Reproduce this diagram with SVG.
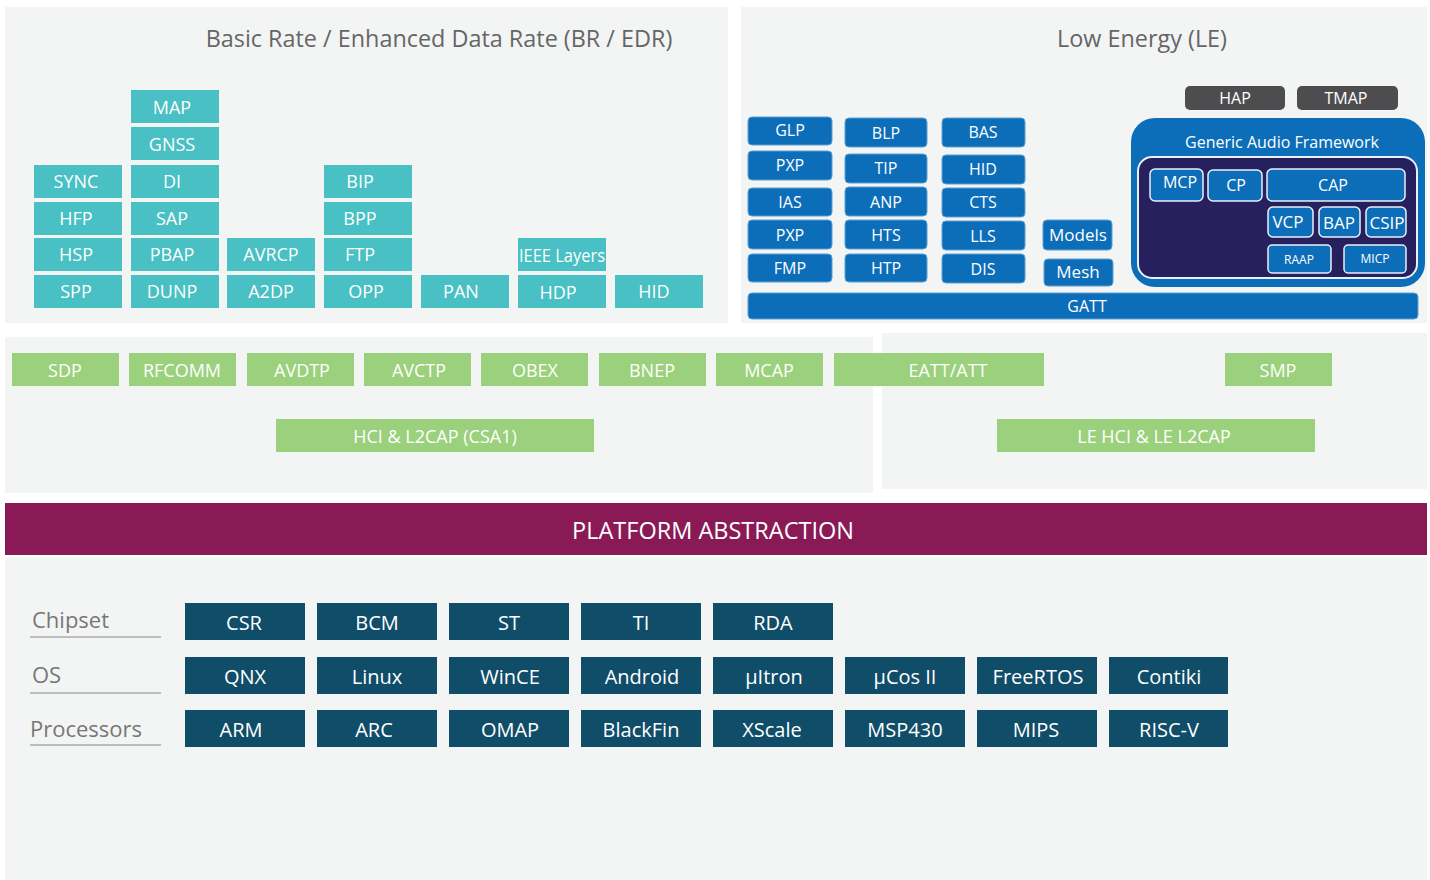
<svg xmlns="http://www.w3.org/2000/svg" width="1430" height="880" viewBox="0 0 1430 880">
<style>
text{font-family:"Open Sans","Noto Sans","Liberation Sans",sans-serif;text-anchor:middle}
.panel{fill:#f3f5f5}
.title{font-size:23.4px;fill:#666}
.teal rect{fill:#48c0c4}
.teal text{fill:#fff;font-size:18px}
.le rect{fill:#0c6eb8;stroke:#5d9fd3;stroke-width:1}
.le text{fill:#fff;font-size:16px}
.gray rect{fill:#4d4d4f}
.gray text{fill:#fff;font-size:16px}
.gaf text{fill:#fff}
.gb{fill:#0c6eb8;stroke:#eaf0f8;stroke-width:1.5}
.green rect{fill:#9bd07c}
.green text{fill:#fff;font-size:18px}
.plat rect{fill:#0f4d69}
.plat text{fill:#fff;font-size:20px}
.lbl{font-size:22px;fill:#777;text-anchor:start}
.ul{stroke:#bdbdbd;stroke-width:2}
</style>
<!-- panels -->
<rect class="panel" x="5" y="7" width="723" height="316"/>
<rect class="panel" x="741" y="7" width="686" height="316"/>
<rect class="panel" x="5" y="337" width="868" height="156"/>
<rect class="panel" x="882" y="333" width="545" height="156"/>
<rect class="panel" x="5" y="557" width="1422" height="323"/>
<text class="title" x="439" y="47">Basic Rate / Enhanced Data Rate (BR / EDR)</text>
<text class="title" x="1142" y="47">Low Energy (LE)</text>

<!-- BR/EDR profiles -->
<g class="teal">
<g id="MAP"><rect x="131" y="90" width="88" height="33"/><text x="172" y="114">MAP</text></g>
<g id="GNSS"><rect x="131" y="127" width="88" height="33"/><text x="172" y="151">GNSS</text></g>
<g id="SYNC"><rect x="34" y="165" width="88" height="33"/><text x="76" y="188">SYNC</text></g>
<g id="DI"><rect x="131" y="165" width="88" height="33"/><text x="172" y="188">DI</text></g>
<g id="BIP"><rect x="324" y="165" width="88" height="33"/><text x="360" y="188">BIP</text></g>
<g id="HFP"><rect x="34" y="202" width="88" height="33"/><text x="76" y="225">HFP</text></g>
<g id="SAP"><rect x="131" y="202" width="88" height="33"/><text x="172" y="225">SAP</text></g>
<g id="BPP"><rect x="324" y="202" width="88" height="33"/><text x="360" y="225">BPP</text></g>
<g id="HSP"><rect x="34" y="238" width="88" height="33"/><text x="76" y="261">HSP</text></g>
<g id="PBAP"><rect x="131" y="238" width="88" height="33"/><text x="172" y="261">PBAP</text></g>
<g id="AVRCP"><rect x="227" y="238" width="88" height="33"/><text x="271" y="261">AVRCP</text></g>
<g id="FTP"><rect x="324" y="238" width="88" height="33"/><text x="360" y="261">FTP</text></g>
<g id="IEEE"><rect x="518" y="238" width="88" height="33"/><text x="562" y="262" textLength="86" lengthAdjust="spacingAndGlyphs">IEEE Layers</text></g>
<g id="SPP"><rect x="34" y="275" width="88" height="33"/><text x="76" y="298">SPP</text></g>
<g id="DUNP"><rect x="131" y="275" width="88" height="33"/><text x="172" y="298">DUNP</text></g>
<g id="A2DP"><rect x="227" y="275" width="88" height="33"/><text x="271" y="298">A2DP</text></g>
<g id="OPP"><rect x="324" y="275" width="88" height="33"/><text x="366" y="298">OPP</text></g>
<g id="PAN"><rect x="421" y="275" width="88" height="33"/><text x="461" y="298">PAN</text></g>
<g id="HDP"><rect x="518" y="275" width="88" height="33"/><text x="558" y="299">HDP</text></g>
<g id="HID-BR"><rect x="615" y="275" width="88" height="33"/><text x="654" y="298">HID</text></g>
</g>

<!-- LE profiles -->
<g class="le">
<g id="GLP"><rect x="748" y="117" width="84" height="28" rx="4"/><text x="790" y="136">GLP</text></g>
<g id="PXP1"><rect x="748" y="151" width="84" height="29" rx="4"/><text x="790" y="171">PXP</text></g>
<g id="IAS"><rect x="748" y="188" width="84" height="28" rx="4"/><text x="790" y="208">IAS</text></g>
<g id="PXP2"><rect x="748" y="220" width="84" height="29" rx="4"/><text x="790" y="241">PXP</text></g>
<g id="FMP"><rect x="748" y="254" width="84" height="28" rx="4"/><text x="790" y="274">FMP</text></g>
<g id="BLP"><rect x="845" y="118" width="82" height="29" rx="4"/><text x="886" y="139">BLP</text></g>
<g id="TIP"><rect x="845" y="154" width="82" height="29" rx="4"/><text x="886" y="174">TIP</text></g>
<g id="ANP"><rect x="845" y="187" width="82" height="29" rx="4"/><text x="886" y="208">ANP</text></g>
<g id="HTS"><rect x="845" y="220" width="82" height="29" rx="4"/><text x="886" y="241">HTS</text></g>
<g id="HTP"><rect x="845" y="254" width="82" height="28" rx="4"/><text x="886" y="274">HTP</text></g>
<g id="BAS"><rect x="942" y="118" width="83" height="29" rx="4"/><text x="983" y="138">BAS</text></g>
<g id="HID-LE"><rect x="942" y="155" width="83" height="29" rx="4"/><text x="983" y="175">HID</text></g>
<g id="CTS"><rect x="942" y="188" width="83" height="29" rx="4"/><text x="983" y="208">CTS</text></g>
<g id="LLS"><rect x="942" y="221" width="83" height="29" rx="4"/><text x="983" y="242">LLS</text></g>
<g id="DIS"><rect x="942" y="254" width="83" height="29" rx="4"/><text x="983" y="275">DIS</text></g>
<g id="Models"><rect x="1043" y="220" width="69" height="30" rx="4"/><text x="1078" y="241" style="font-size:17px">Models</text></g>
<g id="Mesh"><rect x="1044" y="259" width="69" height="27" rx="4"/><text x="1078" y="278" style="font-size:17px">Mesh</text></g>
<g id="GATT"><rect x="748" y="293" width="670" height="26" rx="4"/><text x="1087" y="312">GATT</text></g>
</g>

<g class="gray">
<g id="HAP"><rect x="1185" y="86" width="100" height="24" rx="5"/><text x="1235" y="104">HAP</text></g>
<g id="TMAP"><rect x="1297" y="86" width="101" height="24" rx="5"/><text x="1346" y="104">TMAP</text></g>
</g>

<g id="GAF" class="gaf">
<rect x="1131" y="118" width="294" height="169" rx="24" fill="#0c6eb8"/>
<text x="1282" y="148" style="font-size:16px">Generic Audio Framework</text>
<rect x="1138" y="157" width="279" height="121" rx="14" fill="#26215e" stroke="#eaf0f8" stroke-width="2"/>
<g id="MCP"><rect class="gb" x="1150" y="169" width="53" height="32" rx="5"/><text x="1180" y="188" style="font-size:16px">MCP</text></g>
<g id="CP"><rect class="gb" x="1208" y="170" width="54" height="31" rx="5"/><text x="1236" y="191" style="font-size:16px">CP</text></g>
<g id="CAP"><rect class="gb" x="1267" y="169" width="138" height="32" rx="5"/><text x="1333" y="191" style="font-size:16px">CAP</text></g>
<g id="VCP"><rect class="gb" x="1268" y="207" width="45" height="30" rx="5"/><text x="1288" y="228" style="font-size:17px">VCP</text></g>
<g id="BAP"><rect class="gb" x="1319" y="207" width="41" height="30" rx="5"/><text x="1339" y="229" style="font-size:17px">BAP</text></g>
<g id="CSIP"><rect class="gb" x="1366" y="207" width="40" height="30" rx="5"/><text x="1387" y="229" style="font-size:17px">CSIP</text></g>
<g id="RAAP"><rect class="gb" x="1268" y="245" width="63" height="28" rx="4"/><text x="1299" y="264" style="font-size:12px">RAAP</text></g>
<g id="MICP"><rect class="gb" x="1344" y="245" width="62" height="28" rx="4"/><text x="1375" y="263" style="font-size:12px">MICP</text></g>
</g>

<!-- protocol layer -->
<g class="green">
<g id="SDP"><rect x="12" y="353" width="107" height="33"/><text x="65" y="377">SDP</text></g>
<g id="RFCOMM"><rect x="129" y="353" width="107" height="33"/><text x="182" y="377">RFCOMM</text></g>
<g id="AVDTP"><rect x="247" y="353" width="107" height="33"/><text x="302" y="377">AVDTP</text></g>
<g id="AVCTP"><rect x="364" y="353" width="107" height="33"/><text x="419" y="377">AVCTP</text></g>
<g id="OBEX"><rect x="481" y="353" width="107" height="33"/><text x="535" y="377">OBEX</text></g>
<g id="BNEP"><rect x="599" y="353" width="107" height="33"/><text x="652" y="377">BNEP</text></g>
<g id="MCAP"><rect x="716" y="353" width="107" height="33"/><text x="769" y="377">MCAP</text></g>
<g id="EATT"><rect x="834" y="353" width="210" height="33"/><text x="948" y="377">EATT/ATT</text></g>
<g id="SMP"><rect x="1225" y="353" width="107" height="33"/><text x="1278" y="377">SMP</text></g>
<g id="HCI"><rect x="276" y="419" width="318" height="33"/><text x="435" y="443">HCI &amp; L2CAP (CSA1)</text></g>
<g id="LEHCI"><rect x="997" y="419" width="318" height="33"/><text x="1154" y="443">LE HCI &amp; LE L2CAP</text></g>
</g>

<g id="PLATFORM">
<rect x="5" y="503" width="1422" height="52" fill="#8a1a56"/>
<text x="713" y="539" style="font-size:23.5px;fill:#fff">PLATFORM ABSTRACTION</text>
</g>

<!-- platforms -->
<text class="lbl" x="32" y="628">Chipset</text>
<line class="ul" x1="30" y1="637" x2="161" y2="637"/>
<text class="lbl" x="32" y="683">OS</text>
<line class="ul" x1="30" y1="693" x2="161" y2="693"/>
<text class="lbl" x="30" y="737">Processors</text>
<line class="ul" x1="30" y1="745" x2="161" y2="745"/>

<g class="plat">
<g id="CSR"><rect x="185" y="603" width="120" height="37"/><text x="244" y="630">CSR</text></g>
<g id="BCM"><rect x="317" y="603" width="120" height="37"/><text x="377" y="630">BCM</text></g>
<g id="ST"><rect x="449" y="603" width="120" height="37"/><text x="509" y="630">ST</text></g>
<g id="TI"><rect x="581" y="603" width="120" height="37"/><text x="641" y="630">TI</text></g>
<g id="RDA"><rect x="713" y="603" width="120" height="37"/><text x="773" y="630">RDA</text></g>
<g id="QNX"><rect x="185" y="657" width="120" height="37"/><text x="245" y="684">QNX</text></g>
<g id="Linux"><rect x="317" y="657" width="120" height="37"/><text x="377" y="684">Linux</text></g>
<g id="WinCE"><rect x="449" y="657" width="120" height="37"/><text x="510" y="684">WinCE</text></g>
<g id="Android"><rect x="581" y="657" width="120" height="37"/><text x="642" y="684">Android</text></g>
<g id="uItron"><rect x="713" y="657" width="120" height="37"/><text x="774" y="684">µItron</text></g>
<g id="uCos"><rect x="845" y="657" width="120" height="37"/><text x="905" y="684">µCos II</text></g>
<g id="FreeRTOS"><rect x="977" y="657" width="120" height="37"/><text x="1038" y="684">FreeRTOS</text></g>
<g id="Contiki"><rect x="1109" y="657" width="119" height="37"/><text x="1169" y="684">Contiki</text></g>
<g id="ARM"><rect x="185" y="710" width="120" height="37"/><text x="241" y="737">ARM</text></g>
<g id="ARC"><rect x="317" y="710" width="120" height="37"/><text x="374" y="737">ARC</text></g>
<g id="OMAP"><rect x="449" y="710" width="120" height="37"/><text x="510" y="737">OMAP</text></g>
<g id="BlackFin"><rect x="581" y="710" width="120" height="37"/><text x="641" y="737">BlackFin</text></g>
<g id="XScale"><rect x="713" y="710" width="120" height="37"/><text x="772" y="737">XScale</text></g>
<g id="MSP430"><rect x="845" y="710" width="120" height="37"/><text x="905" y="737">MSP430</text></g>
<g id="MIPS"><rect x="977" y="710" width="120" height="37"/><text x="1036" y="737">MIPS</text></g>
<g id="RISCV"><rect x="1109" y="710" width="119" height="37"/><text x="1169" y="737">RISC-V</text></g>
</g>
<g id="connectors"/>
</svg>
